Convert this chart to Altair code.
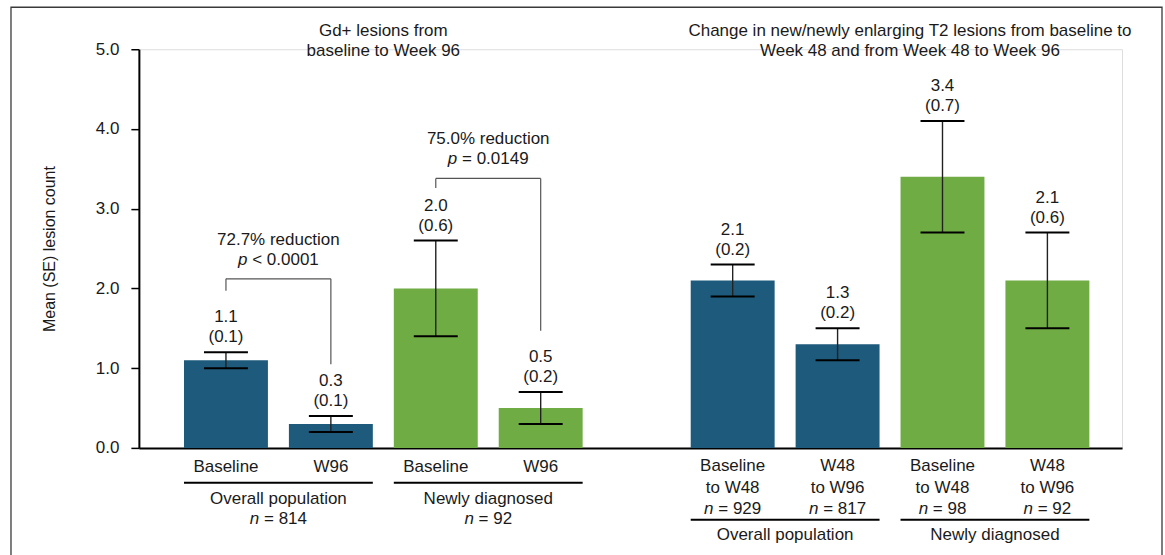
import altair as alt
import pandas as pd

# ---------------------------------------------------------------- values
POPULATIONS = ["Overall population", "Newly diagnosed"]
POP_COLORS = ["#1d5a7b", "#70ac44"]

GD_TITLE = ["Gd+ lesions from", "baseline to Week 96"]
GD_TIMEPOINTS = ["Baseline", "W96", "Baseline", "W96"]
GD_POP = [0, 0, 1, 1]
GD_MEAN = [1.1, 0.3, 2.0, 0.5]
GD_SE = [0.1, 0.1, 0.6, 0.2]
GD_N = [814, 92]
GD_REDUCTION = ["72.7% reduction", "75.0% reduction"]
GD_P = ["< 0.0001", "= 0.0149"]

T2_TITLE = ["Change in new/newly enlarging T2 lesions from baseline to",
            "Week 48 and from Week 48 to Week 96"]
T2_PERIOD_FROM = ["Baseline", "W48", "Baseline", "W48"]
T2_PERIOD_TO = ["to W48", "to W96", "to W48", "to W96"]
T2_POP = [0, 0, 1, 1]
T2_N = [929, 817, 98, 92]
T2_MEAN = [2.1, 1.3, 3.4, 2.1]
T2_SE = [0.2, 0.2, 0.7, 0.6]

Y_TITLE = "Mean (SE) lesion count"
Y_TICKS = [0, 1, 2, 3, 4, 5]

# ---------------------------------------------------------------- layout
W, H = 984, 399            # plot area in px
Y_MAX = 5.0
SLOT = 105.0               # px per bar slot on the x scale
X_MAX = W / SLOT
PANEL_START = [0.83, 5.66]  # slot of each panel's first bar
BAR_HALF = 0.4
FONT = "Liberation Sans, Arial, Helvetica, sans-serif"
FS = 17
INK = "#1a1a1a"

PX_Y = H / Y_MAX


def below(px):
    """y value that lies px pixels under the x axis line."""
    return -px / PX_Y


def above_top(px):
    return Y_MAX + px / PX_Y


# Arial advance widths (per 1000 em) for the characters that get split
ARIAL = {" ": 278, ".": 278, "<": 584, "=": 584, "(": 333, ")": 333,
         "n": 556, "p": 556}


def text_px(s, size=FS):
    return sum(ARIAL.get(c, 556) for c in s) * size / 1000.0


def italic_prefix(letter, rest, cx, y, rows_it, rows_rg):
    """Centre '<letter> <rest>' on cx, letter in italics."""
    w_l, w_sp, w_r = text_px(letter), text_px(" "), text_px(rest)
    start = cx * SLOT - (w_l + w_sp + w_r) / 2
    rows_it.append({"x": (start + w_l / 2) / SLOT, "y": y, "t": letter})
    rows_rg.append({"x": (start + w_l + w_sp + w_r / 2) / SLOT, "y": y, "t": rest})


# ---------------------------------------------------------------- tables
bars = []
for i in range(4):
    s = PANEL_START[0] + i
    bars.append({"slot": s, "mean": GD_MEAN[i], "se": GD_SE[i],
                 "pop": POPULATIONS[GD_POP[i]]})
for i in range(4):
    s = PANEL_START[1] + i
    bars.append({"slot": s, "mean": T2_MEAN[i], "se": T2_SE[i],
                 "pop": POPULATIONS[T2_POP[i]]})
bars = pd.DataFrame(bars)
bars["x0"] = bars["slot"] - BAR_HALF
bars["x1"] = bars["slot"] + BAR_HALF
bars["base"] = 0.0
bars["lo"] = bars["mean"] - bars["se"]
bars["hi"] = bars["mean"] + bars["se"]
bars["mean_txt"] = bars["mean"].map(lambda v: f"{v:.1f}")
bars["se_txt"] = bars["se"].map(lambda v: f"({v:.1f})")

caps = pd.concat([bars[["slot"]].assign(y=bars["lo"]),
                  bars[["slot"]].assign(y=bars["hi"])])

# significance brackets over the Gd+ pairs
BRACKET_TOP = [2.12, 3.38]
BRACKET_LEGS = [(1.97, 1.05), (3.26, 1.47)]
br_rows, br_txt, br_it, br_rg = [], [], [], []
for k in range(2):
    a = PANEL_START[0] + 2 * k
    b = a + 1
    top = BRACKET_TOP[k]
    l1, l2 = BRACKET_LEGS[k]
    br_rows += [{"x": a, "x2": a, "y": l1, "y2": top},
                {"x": a, "x2": b, "y": top, "y2": top},
                {"x": b, "x2": b, "y": l2, "y2": top}]
    mid = (a + b) / 2
    br_txt.append({"x": mid, "y": top + 34 / PX_Y, "t": GD_REDUCTION[k]})
    italic_prefix("p", GD_P[k], mid, top + 14 / PX_Y, br_it, br_rg)
br_rows = pd.DataFrame(br_rows)

# text under the axis
lab_rg, lab_it, lines = [], [], []
for i in range(4):
    s = PANEL_START[0] + i
    lab_rg.append({"x": s, "y": below(24), "t": GD_TIMEPOINTS[i]})
for k in range(2):
    a = PANEL_START[0] + 2 * k
    mid = a + 0.5
    lines.append({"x": a - BAR_HALF, "x2": a + 1 + BAR_HALF, "y": below(35)})
    lab_rg.append({"x": mid, "y": below(56), "t": POPULATIONS[k]})
    italic_prefix("n", f"= {GD_N[k]}", mid, below(76), lab_it, lab_rg)
for i in range(4):
    s = PANEL_START[1] + i
    lab_rg.append({"x": s, "y": below(23), "t": T2_PERIOD_FROM[i]})
    lab_rg.append({"x": s, "y": below(45), "t": T2_PERIOD_TO[i]})
    italic_prefix("n", f"= {T2_N[i]}", s, below(66), lab_it, lab_rg)
for k in range(2):
    a = PANEL_START[1] + 2 * k
    lines.append({"x": a - BAR_HALF, "x2": a + 1 + BAR_HALF, "y": below(72)})
    lab_rg.append({"x": a + 0.5, "y": below(92), "t": POPULATIONS[k]})

# panel titles
titles = []
for j, line in enumerate(GD_TITLE):
    titles.append({"x": PANEL_START[0] + 1.5, "y": above_top(13 - 20 * j), "t": line})
for j, line in enumerate(T2_TITLE):
    titles.append({"x": PANEL_START[1] + 1.5 + 0.19, "y": above_top(13 - 20 * j), "t": line})

# ---------------------------------------------------------------- encodings
XS = alt.Scale(domain=[0, X_MAX], nice=False, zero=False, padding=0)
YS = alt.Scale(domain=[0, Y_MAX], nice=False, padding=0)
XAX = alt.Axis(labels=False, ticks=False, grid=False, domainColor="black",
               domainWidth=2, title="")
YAX = alt.Axis(values=Y_TICKS, format=".1f", grid=False, title=Y_TITLE,
               domainColor="black", domainWidth=2, tickColor="black",
               tickWidth=1.5, tickSize=8, labelPadding=12, labelFontSize=FS,
               labelColor=INK, labelFont=FONT, titleFont=FONT, titleFontSize=16,
               titleFontWeight="normal", titleColor=INK, titlePadding=38)


def X(f):
    return alt.X(f"{f}:Q", scale=XS, axis=XAX)


def Y(f):
    return alt.Y(f"{f}:Q", scale=YS, axis=YAX)


def text_layer(df, italic=False, dy=0, field="t", ydf="y"):
    kw = dict(font=FONT, fontSize=FS, color=INK, align="center",
              baseline="alphabetic")
    if italic:
        kw["fontStyle"] = "italic"
    if dy:
        kw["dy"] = dy
    return alt.Chart(pd.DataFrame(df)).mark_text(**kw).encode(
        x=X("x"), y=Y(ydf), text=f"{field}:N")


frame = alt.Chart(pd.DataFrame({"k": [0]})).mark_rect(
    fillOpacity=0, stroke="#3a3a3a", strokeWidth=1.3
).encode(x=alt.value(-128), x2=alt.value(1024), y=alt.value(-42), y2=alt.value(600))

bar_layer = alt.Chart(bars).mark_bar().encode(
    x=X("x0"), x2="x1", y=Y("mean"), y2="base",
    color=alt.Color("pop:N", scale=alt.Scale(domain=POPULATIONS, range=POP_COLORS),
                    legend=None))

err = alt.Chart(bars).mark_rule(color="#222", strokeWidth=1.4).encode(
    x=X("slot"), y=Y("lo"), y2="hi")

cap = alt.Chart(caps).mark_tick(orient="horizontal", size=44, thickness=2,
                                color="black", opacity=1).encode(
    x=X("slot"), y=Y("y"))

mean_lab = alt.Chart(bars).mark_text(font=FONT, fontSize=FS, color=INK,
                                     baseline="alphabetic", dy=-30).encode(
    x=X("slot"), y=Y("hi"), text="mean_txt:N")
se_lab = alt.Chart(bars).mark_text(font=FONT, fontSize=FS, color=INK,
                                   baseline="alphabetic", dy=-10).encode(
    x=X("slot"), y=Y("hi"), text="se_txt:N")

brackets = alt.Chart(br_rows).mark_rule(color="#555", strokeWidth=1.2).encode(
    x=X("x"), x2="x2", y=Y("y"), y2="y2")

underlines = alt.Chart(pd.DataFrame(lines)).mark_rule(color="black", strokeWidth=2).encode(
    x=X("x"), x2="x2", y=Y("y"))

chart = alt.layer(
    frame, bar_layer, err, cap, mean_lab, se_lab, brackets,
    text_layer(br_txt), text_layer(br_rg), text_layer(br_it, italic=True),
    underlines, text_layer(lab_rg), text_layer(lab_it, italic=True),
    text_layer(titles),
).properties(
    width=W, height=H,
    padding={"left": 10, "top": 6, "right": 2, "bottom": 0},
).configure_view(strokeWidth=0).configure(background="white")

chart.save("out.html", embed_options={"renderer": "svg", "actions": False})
